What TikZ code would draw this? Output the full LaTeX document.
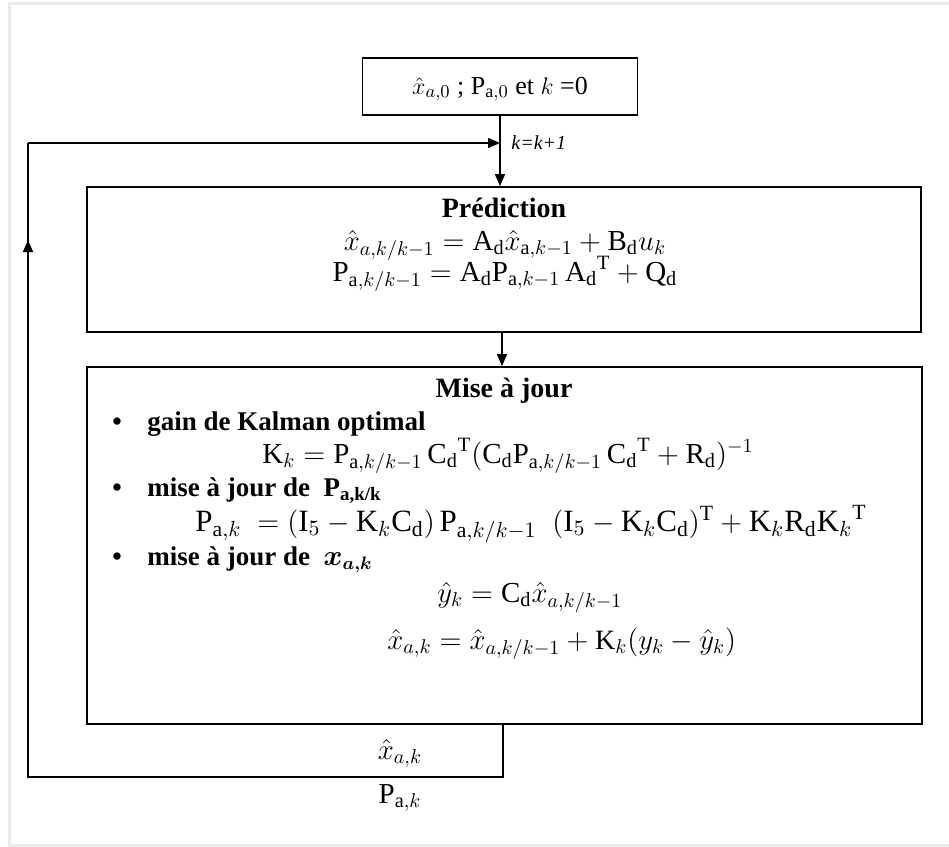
\documentclass[tikz,border=0pt]{standalone}
\usepackage{amsmath}
\usepackage{fontspec}
\setmainfont{Liberation Serif}
\newfontfamily\tnrfont{Liberation Serif}
\usetikzlibrary{arrows.meta}
\tikzset{
  box/.style={draw, line width=0.9pt, inner sep=0pt},
  titletxt/.style={font=\fontsize{14}{17}\selectfont\bfseries, inner sep=0pt, anchor=base},
  eqtxt/.style={font=\fontsize{14.5}{17}\selectfont, inner sep=0pt, anchor=base},
  bultxt/.style={font=\fontsize{13.5}{16}\selectfont\bfseries, inner sep=0pt, anchor=base west},
  arr/.style={-{Triangle[length=6pt,width=5pt]}, line width=0.7pt},
  wire/.style={line width=0.7pt},
  frame/.style={draw=black!8, line width=1.5pt}
}
\newcommand{\rmx}[1]{\mathrm{#1}}
\begin{document}
\begin{tikzpicture}[x=0.5pt,y=-0.5pt]
\useasboundingbox (0,0) rectangle (949,847);
\draw[frame] (960,3) -- (9,3) -- (9,845) -- (960,845);
% boxes
\node[box, minimum width=137.5pt, minimum height=28.5pt] (top) at (500,86.5) {};
\node[box, minimum width=417pt, minimum height=72.5pt] (pred) at (504,259.5) {};
\node[box, minimum width=417.5pt, minimum height=178.5pt] (upd) at (504.5,545.5) {};
% top text
\node[eqtxt, font=\fontsize{13}{15}\selectfont\tnrfont] (ttop) at (500,94) {$\hat{x}_{a,0}$ ; $\rmx{P}_{\rmx{a},0}$ et $k$ =0};
% prediction
\node[titletxt] (tpred) at (504,217) {Prédiction};
\node[eqtxt] (e1) at (505,250) {$\hat{x}_{a,k/k-1} = \rmx{A}_{\rmx{d}}\hat{x}_{\rmx{a},k-1} + \rmx{B}_{\rmx{d}}u_k$};
\node[eqtxt] (e2) at (505,281) {$\rmx{P}_{\rmx{a},k/k-1} = \rmx{A}_{\rmx{d}}\rmx{P}_{\rmx{a},k-1}\,{\rmx{A}_{\rmx{d}}}^{\rmx{T}} + \rmx{Q}_{\rmx{d}}$};
% update
\node[titletxt] (tupd) at (504,397) {Mise à jour};
\node[bultxt] (d1) at (112,430) {\textbullet};
\node[bultxt] (b1) at (147,430) {gain de Kalman optimal};
\node[eqtxt, anchor=base west] (e3) at (262,463) {$\rmx{K}_k = \rmx{P}_{\rmx{a},k/k-1}\,{\rmx{C}_{\rmx{d}}}^{\rmx{T}}(\rmx{C}_{\rmx{d}}\rmx{P}_{\rmx{a},k/k-1}\,{\rmx{C}_{\rmx{d}}}^{\rmx{T}} + \rmx{R}_{\rmx{d}})^{-1}$};
\node[bultxt] (d2) at (112,496) {\textbullet};
\node[bultxt] (b2) at (147,496) {mise à jour de\ \ P\textsubscript{a,k/k}};
\node[eqtxt, anchor=base west, font=\fontsize{15.5}{18}\selectfont] (e4) at (195,531) {$\rmx{P}_{\rmx{a},k}\; = (\rmx{I}_5 - \rmx{K}_k\rmx{C}_{\rmx{d}})\,\rmx{P}_{\rmx{a},k/k-1}\;\ (\rmx{I}_5 - \rmx{K}_k\rmx{C}_{\rmx{d}})^{\rmx{T}} + \rmx{K}_k\rmx{R}_{\rmx{d}}{\rmx{K}_k}^{\rmx{T}}$};
\node[bultxt] (d3) at (112,565) {\textbullet};
\node[bultxt] (b3) at (147,565) {mise à jour de\ \ $\boldsymbol{x}_{\boldsymbol{a,k}}$};
\node[eqtxt, anchor=base west] (e5) at (437,602) {$\hat{y}_k = \rmx{C}_{\rmx{d}}\hat{x}_{a,k/k-1}$};
\node[eqtxt, anchor=base west, font=\fontsize{14}{17}\selectfont] (e6) at (387,649) {$\hat{x}_{a,k} = \hat{x}_{a,k/k-1} + \rmx{K}_k(y_k - \hat{y}_k)$};
% output labels
\node[eqtxt] (lx) at (400,759) {$\hat{x}_{a,k}$};
\node[eqtxt] (lp) at (400,803) {$\rmx{P}_{\rmx{a},k}$};
% connectors
\coordinate (fb1) at (503,777);
\coordinate (fb2) at (28,777);
\coordinate (fb3) at (28,143);
\coordinate (fbup) at (28,240);
\draw[arr] (top.south) -- (top.south |- pred.north);
\draw[arr] (pred.south -| 502,0) -- (502,0 |- upd.north);
\draw[wire] (upd.south -| fb1) -- (fb1) -- (fb2) -- (fb3);
\draw[arr] (fb3) -- (top.south |- fb3);
\draw[arr] (fb2) -- (fbup);
\node[font=\fontsize{10}{12}\selectfont\tnrfont\itshape, anchor=west, inner sep=0pt] (kk) at (511,143) {k=k+1};
\end{tikzpicture}
\end{document}
